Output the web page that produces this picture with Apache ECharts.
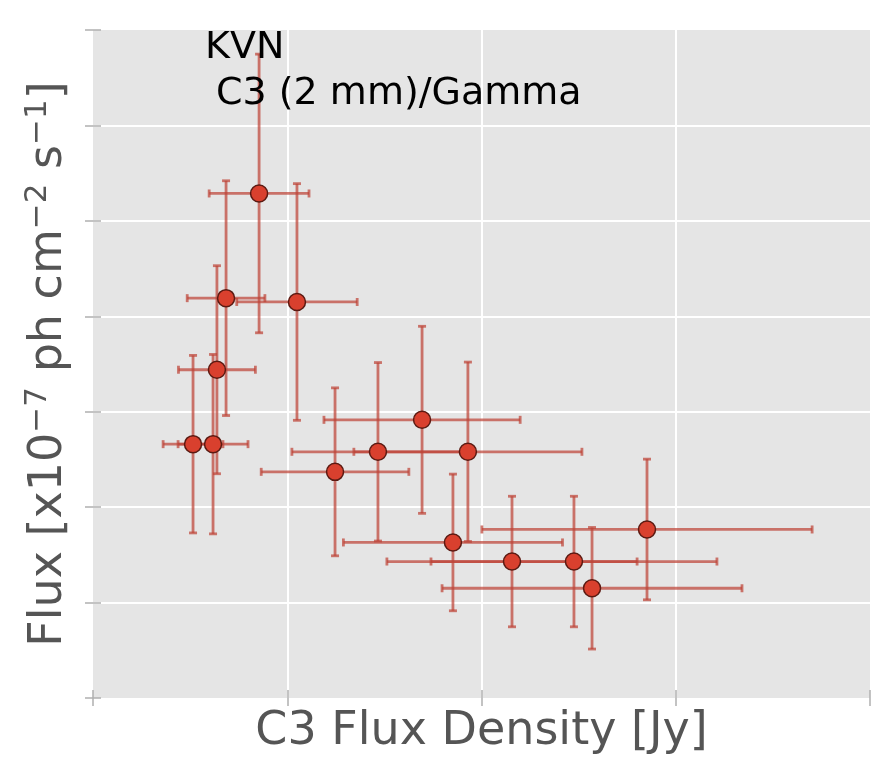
<!DOCTYPE html>
<html>
<head>
<meta charset="utf-8">
<script src="https://cdn.jsdelivr.net/npm/echarts@6/dist/echarts.min.js"></script>
<style>
html,body{margin:0;padding:0;background:#fff;}
#chart{width:890px;height:760px;}
</style>
</head>
<body>
<div id="chart"></div>
<script>
// C3 flux density (arbitrary axis units, axis spans 0..4) and gamma flux (axis spans 0..7)
const c3Flux = [0.855, 0.685, 1.05, 0.638, 0.515, 0.618, 1.246, 1.467, 1.694, 1.93, 1.853, 2.157, 2.476, 2.569, 2.852];
const gammaFlux = [5.287, 4.19, 4.15, 3.44, 2.66, 2.66, 2.37, 2.58, 2.915, 2.58, 1.63, 1.43, 1.43, 1.15, 1.766];
const c3Err = [0.257, 0.20, 0.31, 0.198, 0.154, 0.18, 0.38, 0.443, 0.505, 0.587, 0.564, 0.644, 0.736, 0.772, 0.85];
const gammaErr = [1.46, 1.23, 1.24, 1.09, 0.93, 0.94, 0.88, 0.935, 0.98, 0.94, 0.716, 0.684, 0.684, 0.637, 0.737];

const xLabel = 'C3 Flux Density [Jy]';
const annot1 = 'KVN';
const annot2 = 'C3 (2 mm)/Gamma';

const points = c3Flux.map((x, i) => [x, gammaFlux[i], c3Err[i], gammaErr[i]]);

const chart = echarts.init(document.getElementById('chart'), null, {renderer: 'canvas'});
const FONT = '"DejaVu Sans", sans-serif';
const tickStyle = {show: true, inside: false, length: 8, lineStyle: {color: '#b0b0b0', width: 1.5}};
const barColor = 'rgba(190,68,56,0.72)';

const option = {
  animation: false,
  grid: {left: 93, top: 30, right: 20, bottom: 60, show: true, backgroundColor: '#e5e5e5', borderWidth: 0},
  xAxis: [{
    type: 'value', min: 0, max: 4, interval: 1, position: 'bottom',
    name: xLabel, nameLocation: 'middle', nameGap: 11,
    nameTextStyle: {fontFamily: FONT, fontSize: 46, color: '#555555', verticalAlign: 'top'},
    axisLine: {show: false}, axisTick: tickStyle, axisLabel: {show: false},
    splitLine: {show: true, showMinLine: false, showMaxLine: false, lineStyle: {color: '#ffffff', width: 2}}
  }, {
    type: 'value', min: 0, max: 4, interval: 1, position: 'top',
    axisLine: {show: false}, axisTick: tickStyle, axisLabel: {show: false}, splitLine: {show: false}
  }],
  yAxis: [{
    type: 'value', min: 0, max: 7, interval: 1, position: 'left',
    name: '{n|Flux [x10}{s|\u22127}{n| ph cm}{s|\u22122}{n| s}{s|\u22121}{n|]}',
    nameLocation: 'middle', nameGap: 16, nameRotate: 90,
    nameTextStyle: {
      fontFamily: FONT, color: '#555555',
      rich: {
        n: {fontFamily: FONT, fontSize: 46, color: '#555555'},
        s: {fontFamily: FONT, fontSize: 31, color: '#555555', padding: [0, 0, 24, 0]}
      }
    },
    axisLine: {show: false}, axisTick: tickStyle, axisLabel: {show: false},
    splitLine: {show: true, showMinLine: false, showMaxLine: false, lineStyle: {color: '#ffffff', width: 2}}
  }, {
    type: 'value', min: 0, max: 7, interval: 1, position: 'right',
    axisLine: {show: false}, axisTick: tickStyle, axisLabel: {show: false}, splitLine: {show: false}
  }],
  graphic: [
    {type: 'text', left: 205, top: 29, z: 100,
     style: {text: annot1, font: '38px ' + FONT, fill: '#000000'}},
    {type: 'text', left: 216, top: 75, z: 100,
     style: {text: annot2, font: '38px ' + FONT, fill: '#000000'}}
  ],
  series: [{
    type: 'custom',
    xAxisIndex: 0, yAxisIndex: 0,
    data: points,
    z: 2,
    renderItem: function (params, api) {
      const x = api.value(0), y = api.value(1), ex = api.value(2), ey = api.value(3);
      const c = api.coord([x, y]);
      const l = api.coord([x - ex, y]);
      const r = api.coord([x + ex, y]);
      const t = api.coord([x, y + ey]);
      const b = api.coord([x, y - ey]);
      const cap = 4;
      const st = {stroke: barColor, lineWidth: 2.8};
      return {
        type: 'group',
        children: [
          {type: 'line', shape: {x1: l[0], y1: c[1], x2: r[0], y2: c[1]}, style: st},
          {type: 'line', shape: {x1: c[0], y1: t[1], x2: c[0], y2: b[1]}, style: st},
          {type: 'line', shape: {x1: l[0], y1: c[1] - cap, x2: l[0], y2: c[1] + cap}, style: st},
          {type: 'line', shape: {x1: r[0], y1: c[1] - cap, x2: r[0], y2: c[1] + cap}, style: st},
          {type: 'line', shape: {x1: c[0] - cap, y1: t[1], x2: c[0] + cap, y2: t[1]}, style: st},
          {type: 'line', shape: {x1: c[0] - cap, y1: b[1], x2: c[0] + cap, y2: b[1]}, style: st}
        ]
      };
    }
  }, {
    type: 'scatter',
    xAxisIndex: 0, yAxisIndex: 0,
    data: points.map(p => [p[0], p[1]]),
    symbol: 'circle', symbolSize: 17, z: 3,
    itemStyle: {color: '#d9402e', borderColor: '#5b1a12', borderWidth: 1.5, opacity: 1}
  }]
};
chart.setOption(option);
</script>
</body>
</html>
